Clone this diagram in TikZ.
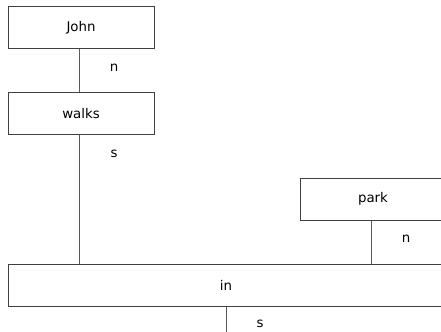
\documentclass[tikz,border=0pt]{standalone}
\usepackage{fontspec}
\setmainfont{DejaVu Sans}
\begin{document}
\begin{tikzpicture}[x=0.75pt, y=-0.75pt]
\tikzstyle{boite}=[rectangle,draw=black!75,line width=0.75pt,minimum width=109.5pt,minimum height=31.5pt,fill=white,inner sep=0pt]
\tikzstyle{lien}=[draw=black!65,line width=0.75pt]
\tikzstyle{etiq}=[inner sep=0pt]
\useasboundingbox (0,0) rectangle (441,331);
\node[boite](john) at (81,28) {John};
\node[boite](walks) at (81,114) {walks};
\node[boite](park) at (373,199) {park};
\node[boite, minimum width=327pt](in) at (226,285) {in};
\coordinate (js) at ([xshift=-1.5]john.south);
\coordinate (ws) at ([xshift=-1.5]walks.south);
\coordinate (ps) at ([xshift=-1.5]park.south);
\coordinate (bas) at (226,340);
\draw[lien] (js) -- (js |- walks.north);
\draw[lien] (ws) -- (ws |- in.north);
\draw[lien] (ps) -- (ps |- in.north);
\draw[lien] (in.south) -- (bas);
\node[etiq] at ([shift={(35,18)}]js) {n};
\node[etiq] at ([shift={(35,18)}]ws) {s};
\node[etiq] at ([shift={(35,18)}]ps) {n};
\node[etiq] at ([shift={(34,17)}]in.south) {s};
\end{tikzpicture}
\end{document}
